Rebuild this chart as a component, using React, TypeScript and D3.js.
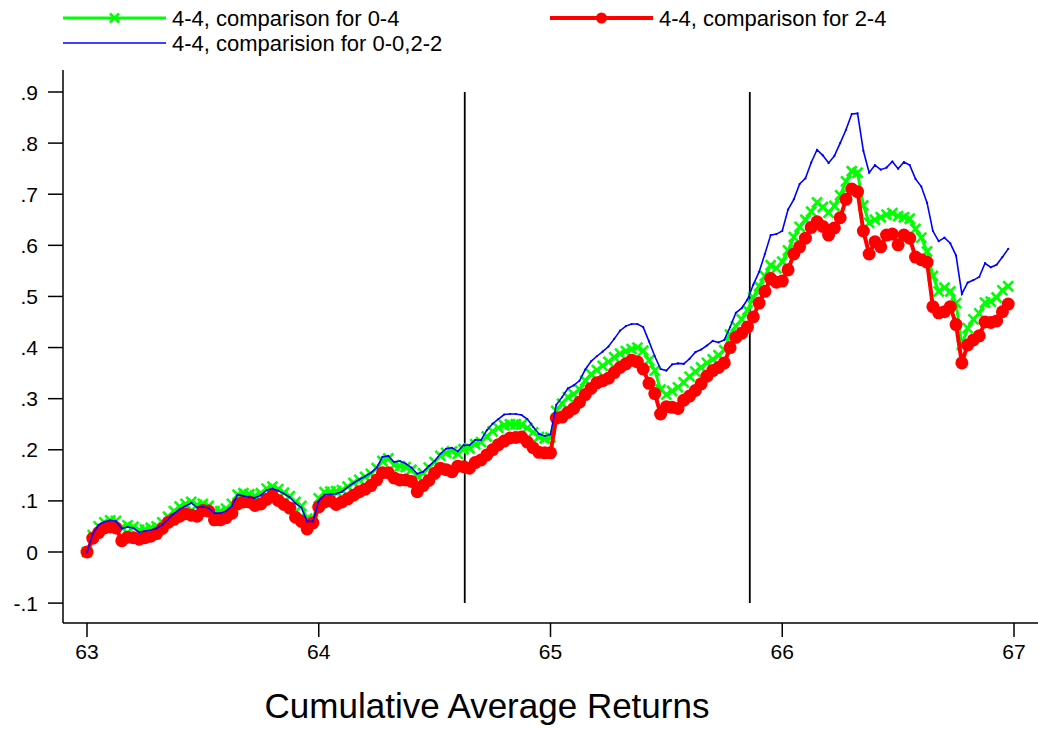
import React, { useEffect, useRef } from 'react';
import * as d3 from 'd3';

// x grid: 63.000 .. 66.975 step 0.025
const xStart = 63;
const xStep = 0.025;

const green04 = [
  0.000, 0.033, 0.050, 0.058, 0.062, 0.061, 0.048, 0.052, 0.049, 0.043,
  0.044, 0.047, 0.050, 0.058, 0.069, 0.080, 0.089, 0.094, 0.098, 0.092,
  0.094, 0.090, 0.080, 0.080, 0.085, 0.094, 0.112, 0.115, 0.113, 0.110,
  0.115, 0.124, 0.128, 0.123, 0.116, 0.109, 0.098, 0.090, 0.065, 0.062,
  0.105, 0.117, 0.118, 0.119, 0.121, 0.128, 0.135, 0.141, 0.147, 0.153,
  0.164, 0.178, 0.183, 0.170, 0.168, 0.166, 0.161, 0.148, 0.154, 0.165,
  0.176, 0.188, 0.194, 0.197, 0.192, 0.201, 0.203, 0.211, 0.215, 0.226,
  0.236, 0.243, 0.248, 0.250, 0.250, 0.249, 0.243, 0.234, 0.225, 0.222,
  0.224, 0.276, 0.290, 0.303, 0.309, 0.318, 0.335, 0.348, 0.356, 0.364,
  0.372, 0.381, 0.388, 0.393, 0.397, 0.400, 0.394, 0.375, 0.355, 0.318,
  0.308, 0.315, 0.322, 0.332, 0.343, 0.353, 0.361, 0.370, 0.377, 0.385,
  0.395, 0.425, 0.442, 0.455, 0.473, 0.498, 0.520, 0.540, 0.561, 0.555,
  0.568, 0.590, 0.616, 0.636, 0.650, 0.666, 0.684, 0.675, 0.664, 0.677,
  0.698, 0.725, 0.745, 0.742, 0.678, 0.644, 0.650, 0.655, 0.660, 0.663,
  0.657, 0.655, 0.652, 0.632, 0.615, 0.588, 0.540, 0.510, 0.517, 0.510,
  0.487, 0.405, 0.438, 0.455, 0.467, 0.488, 0.490, 0.498, 0.512, 0.520,
];

const red24 = [
  0.000, 0.027, 0.038, 0.047, 0.049, 0.047, 0.022, 0.029, 0.028, 0.025,
  0.028, 0.031, 0.036, 0.046, 0.058, 0.064, 0.070, 0.075, 0.072, 0.070,
  0.081, 0.080, 0.063, 0.063, 0.067, 0.076, 0.094, 0.098, 0.098, 0.091,
  0.094, 0.103, 0.110, 0.101, 0.093, 0.086, 0.068, 0.060, 0.045, 0.057,
  0.088, 0.098, 0.100, 0.093, 0.098, 0.104, 0.111, 0.118, 0.123, 0.130,
  0.141, 0.155, 0.155, 0.145, 0.141, 0.141, 0.138, 0.118, 0.130, 0.140,
  0.154, 0.164, 0.161, 0.157, 0.168, 0.167, 0.164, 0.175, 0.180, 0.190,
  0.200, 0.210, 0.217, 0.223, 0.224, 0.225, 0.215, 0.204, 0.195, 0.194,
  0.194, 0.262, 0.264, 0.273, 0.281, 0.293, 0.308, 0.320, 0.331, 0.335,
  0.340, 0.351, 0.361, 0.368, 0.375, 0.372, 0.358, 0.330, 0.310, 0.270,
  0.284, 0.283, 0.281, 0.297, 0.305, 0.316, 0.329, 0.344, 0.355, 0.361,
  0.370, 0.400, 0.420, 0.428, 0.440, 0.460, 0.487, 0.510, 0.535, 0.528,
  0.530, 0.552, 0.583, 0.597, 0.614, 0.635, 0.646, 0.637, 0.620, 0.634,
  0.654, 0.690, 0.710, 0.705, 0.628, 0.583, 0.607, 0.597, 0.620, 0.622,
  0.601, 0.620, 0.614, 0.577, 0.572, 0.567, 0.480, 0.468, 0.470, 0.480,
  0.445, 0.370, 0.405, 0.415, 0.423, 0.450, 0.449, 0.452, 0.470, 0.485,
];

const blue0022 = [
  0.000, 0.035, 0.053, 0.059, 0.062, 0.060, 0.046, 0.049, 0.047, 0.039,
  0.041, 0.043, 0.046, 0.053, 0.064, 0.075, 0.084, 0.090, 0.096, 0.087,
  0.088, 0.086, 0.076, 0.076, 0.080, 0.090, 0.112, 0.110, 0.107, 0.106,
  0.111, 0.121, 0.124, 0.120, 0.114, 0.107, 0.095, 0.087, 0.060, 0.060,
  0.100, 0.112, 0.113, 0.114, 0.118, 0.127, 0.135, 0.142, 0.148, 0.155,
  0.165, 0.186, 0.188, 0.176, 0.178, 0.173, 0.165, 0.153, 0.157, 0.168,
  0.178, 0.192, 0.202, 0.204, 0.197, 0.209, 0.209, 0.219, 0.219, 0.238,
  0.251, 0.260, 0.269, 0.270, 0.270, 0.268, 0.260, 0.245, 0.231, 0.227,
  0.230, 0.288, 0.303, 0.320, 0.326, 0.335, 0.357, 0.373, 0.383, 0.392,
  0.402, 0.417, 0.433, 0.442, 0.446, 0.446, 0.440, 0.412, 0.383, 0.358,
  0.355, 0.367, 0.369, 0.368, 0.378, 0.391, 0.396, 0.404, 0.413, 0.410,
  0.415, 0.440, 0.468, 0.477, 0.494, 0.523, 0.548, 0.583, 0.620, 0.622,
  0.628, 0.670, 0.690, 0.720, 0.731, 0.762, 0.787, 0.776, 0.761, 0.775,
  0.800, 0.826, 0.857, 0.858, 0.785, 0.742, 0.757, 0.748, 0.752, 0.764,
  0.750, 0.763, 0.757, 0.730, 0.715, 0.683, 0.628, 0.608, 0.615, 0.604,
  0.580, 0.505, 0.527, 0.532, 0.538, 0.565, 0.557, 0.562, 0.577, 0.593,
];

const xTicks = [63, 64, 65, 66, 67];
const yTicks = [0.9, 0.8, 0.7, 0.6, 0.5, 0.4, 0.3, 0.2, 0.1, 0, -0.1];
const refLines = [64.63, 65.86];

const legendLabels = [
  '4-4, comparison for 0-4',
  '4-4, comparison for 2-4',
  '4-4, comparision for 0-0,2-2',
];

const FONT = 'Arial, "Liberation Sans", sans-serif';

const App = () => {
  const ref = useRef<SVGSVGElement | null>(null);

  useEffect(() => {
    if (!ref.current) return;
    const svg = d3.select(ref.current);
    svg.selectAll('*').remove();

    const x = d3.scaleLinear().domain([63, 67]).range([87, 1014]);
    const y = d3.scaleLinear().domain([0, 0.9]).range([552, 92]);

    const xs = green04.map((_, i) => xStart + i * xStep);

    svg.append('rect').attr('width', 1038).attr('height', 729).attr('fill', 'white');

    // axes
    const axisX = 63;
    const axisY = 623;
    svg.append('line').attr('x1', axisX).attr('x2', axisX).attr('y1', 70).attr('y2', axisY)
      .attr('stroke', 'black').attr('stroke-width', 1.5);
    svg.append('line').attr('x1', axisX).attr('x2', 1038).attr('y1', axisY).attr('y2', axisY)
      .attr('stroke', 'black').attr('stroke-width', 1.5);

    const yg = svg.append('g');
    yTicks.forEach((t) => {
      yg.append('line').attr('x1', 48).attr('x2', axisX).attr('y1', y(t)).attr('y2', y(t))
        .attr('stroke', 'black').attr('stroke-width', 1.5);
      const lbl = t === 0 ? '0' : t.toFixed(1).replace('0.', '.');
      yg.append('text').attr('x', 38).attr('y', y(t)).attr('dy', '0.36em')
        .attr('text-anchor', 'end').style('font-family', FONT).style('font-size', '21px')
        .text(lbl);
    });

    const xg = svg.append('g');
    xTicks.forEach((t) => {
      xg.append('line').attr('x1', x(t)).attr('x2', x(t)).attr('y1', axisY).attr('y2', 637)
        .attr('stroke', 'black').attr('stroke-width', 1.5);
      xg.append('text').attr('x', x(t)).attr('y', 659)
        .attr('text-anchor', 'middle').style('font-family', FONT).style('font-size', '21px')
        .text(t);
    });

    svg.append('text').attr('x', 487).attr('y', 718).attr('text-anchor', 'middle')
      .style('font-family', FONT).style('font-size', '35px')
      .text('Cumulative Average Returns');

    // reference lines
    refLines.forEach((v) => {
      svg.append('line').attr('x1', x(v)).attr('x2', x(v)).attr('y1', y(0.9)).attr('y2', y(-0.1))
        .attr('stroke', 'black').attr('stroke-width', 1.8);
    });

    const line = d3.line<number>().x((_, i) => x(xs[i])).y((d) => y(d));

    const crossPath = (s: number) => `M${-s},${-s}L${s},${s}M${-s},${s}L${s},${-s}`;

    // green: x markers
    svg.append('path').datum(green04).attr('d', line).attr('fill', 'none')
      .attr('stroke', '#00ff00').attr('stroke-width', 3);
    svg.append('g').selectAll('path').data(green04).join('path')
      .attr('transform', (d, i) => `translate(${x(xs[i])},${y(d)})`)
      .attr('d', crossPath(5)).attr('stroke', '#00ff00').attr('stroke-width', 2.6)
      .attr('fill', 'none');

    // red: circles
    svg.append('path').datum(red24).attr('d', line).attr('fill', 'none')
      .attr('stroke', '#ff0000').attr('stroke-width', 4);
    svg.append('g').selectAll('circle').data(red24).join('circle')
      .attr('cx', (d, i) => x(xs[i])).attr('cy', (d) => y(d)).attr('r', 6.5)
      .attr('fill', '#ff0000');

    // blue: thin line with tiny dots
    svg.append('path').datum(blue0022).attr('d', line).attr('fill', 'none')
      .attr('stroke', '#0000ff').attr('stroke-width', 1.6);
    svg.append('g').selectAll('circle').data(blue0022).join('circle')
      .attr('cx', (d, i) => x(xs[i])).attr('cy', (d) => y(d)).attr('r', 1.1)
      .attr('fill', '#0000ff');

    // legend
    const leg = svg.append('g');
    const items = [
      { x0: 63, x1: 166, yy: 18, color: '#00ff00', w: 3, marker: 'x', tx: 172 },
      { x0: 550, x1: 653, yy: 18, color: '#ff0000', w: 4, marker: 'o', tx: 659 },
      { x0: 63, x1: 166, yy: 43, color: '#0000ff', w: 1.6, marker: '.', tx: 172 },
    ];
    items.forEach((it, k) => {
      leg.append('line').attr('x1', it.x0).attr('x2', it.x1).attr('y1', it.yy).attr('y2', it.yy)
        .attr('stroke', it.color).attr('stroke-width', it.w);
      const mx = (it.x0 + it.x1) / 2;
      if (it.marker === 'x') {
        leg.append('path').attr('transform', `translate(${mx},${it.yy})`).attr('d', crossPath(4.5))
          .attr('stroke', it.color).attr('stroke-width', 2.6);
      } else if (it.marker === 'o') {
        leg.append('circle').attr('cx', mx).attr('cy', it.yy).attr('r', 5.5).attr('fill', it.color);
      }
      leg.append('text').attr('x', it.tx).attr('y', it.yy).attr('dy', '0.36em')
        .style('font-family', FONT).style('font-size', '22px').text(legendLabels[k]);
    });
  }, []);

  return (
    <div style={{ position: 'absolute', left: 0, top: 0 }}>
      <svg ref={ref} width={1038} height={729} style={{ display: 'block' }} />
    </div>
  );
};

export default App;
